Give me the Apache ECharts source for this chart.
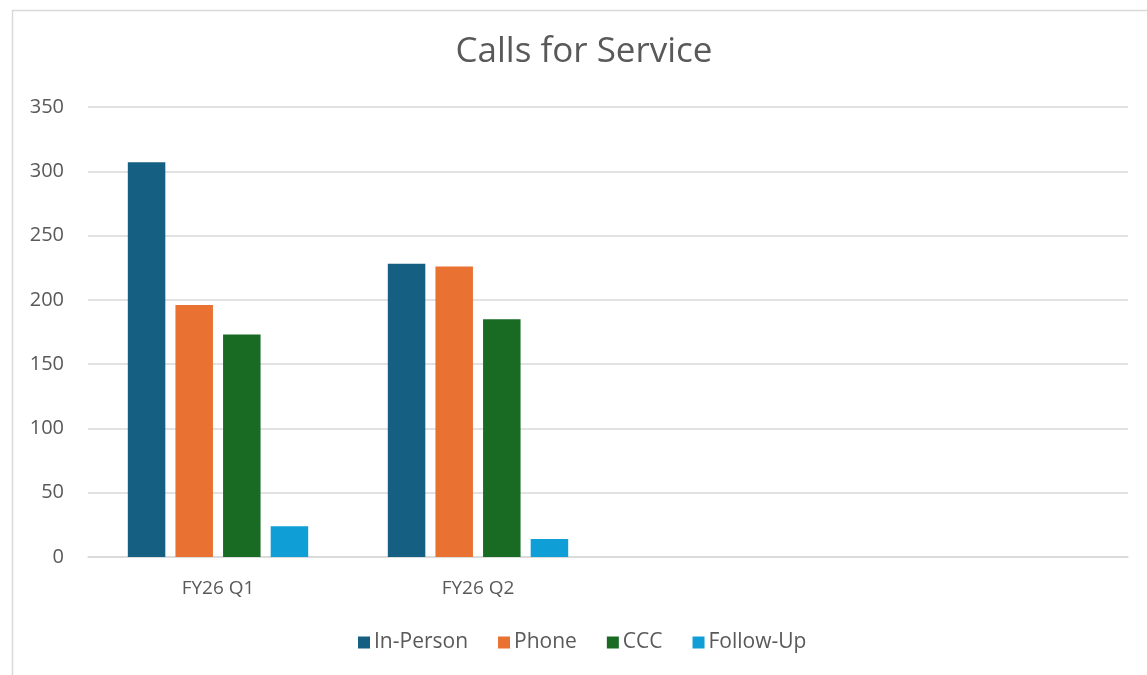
<!DOCTYPE html>
<html>
<head>
<meta charset="utf-8">
<script src="https://cdn.jsdelivr.net/npm/echarts@6/dist/echarts.min.js"></script>
<style>html,body{margin:0;padding:0;background:#fff}#c{width:1147px;height:675px}</style>
</head>
<body>
<div id="c"></div>
<script>
const categories = ['FY26 Q1', 'FY26 Q2', ' ', '  '];
const seriesNames = ['In-Person', 'Phone', 'CCC', 'Follow-Up'];
const inPerson = [307, 228];
const phone = [196, 226];
const ccc = [173, 185];
const followUp = [24, 14];
const colors = ['#156082', '#E97132', '#196B24', '#0F9ED5'];
const yTicks = {min: 0, max: 350, interval: 50};

const values = [inPerson, phone, ccc, followUp];
const font = '"Open Sans", Roboto, sans-serif';
const chart = echarts.init(document.getElementById('c'), null, {renderer: 'canvas'});
chart.setOption({
  animation: false,
  color: colors,
  graphic: [{
    type: 'rect', left: 10, top: 8,
    shape: {width: 1200, height: 700},
    style: {fill: 'none', stroke: '#d9d9d9', lineWidth: 1.5},
    silent: true, z: -1
  }, {
    type: 'text', x: 584, y: 52,
    style: {text: 'Calls for Service', fill: '#595959', font: '35px "Open Sans", Roboto, sans-serif',
            align: 'center', verticalAlign: 'middle'},
    silent: true
  }],
  legend: {
    bottom: 17, left: 353, itemWidth: 12, itemHeight: 12, itemGap: 30,
    icon: 'rect',
    textStyle: {color: '#595959', fontSize: 21, fontFamily: font, padding: [0, 0, 0, -1]},
    data: seriesNames
  },
  grid: {left: 88, right: 19, top: 107, bottom: 118, containLabel: false},
  xAxis: {
    type: 'category', data: categories,
    axisLine: {lineStyle: {color: '#d9d9d9', width: 1.5}},
    axisTick: {show: false},
    axisLabel: {color: '#595959', fontSize: 19, fontFamily: font, margin: 22}
  },
  yAxis: {
    type: 'value', min: yTicks.min, max: yTicks.max, interval: yTicks.interval,
    axisLine: {show: false}, axisTick: {show: false},
    splitLine: {lineStyle: {color: '#d9d9d9', width: 1.5}},
    axisLabel: {color: '#595959', fontSize: 20, fontFamily: font, margin: 24}
  },
  series: seriesNames.map((n, i) => ({
    name: n, type: 'bar', data: values[i],
    barWidth: 37.5, barGap: '27%',
    itemStyle: {color: colors[i]}
  }))
});
</script>
</body>
</html>
